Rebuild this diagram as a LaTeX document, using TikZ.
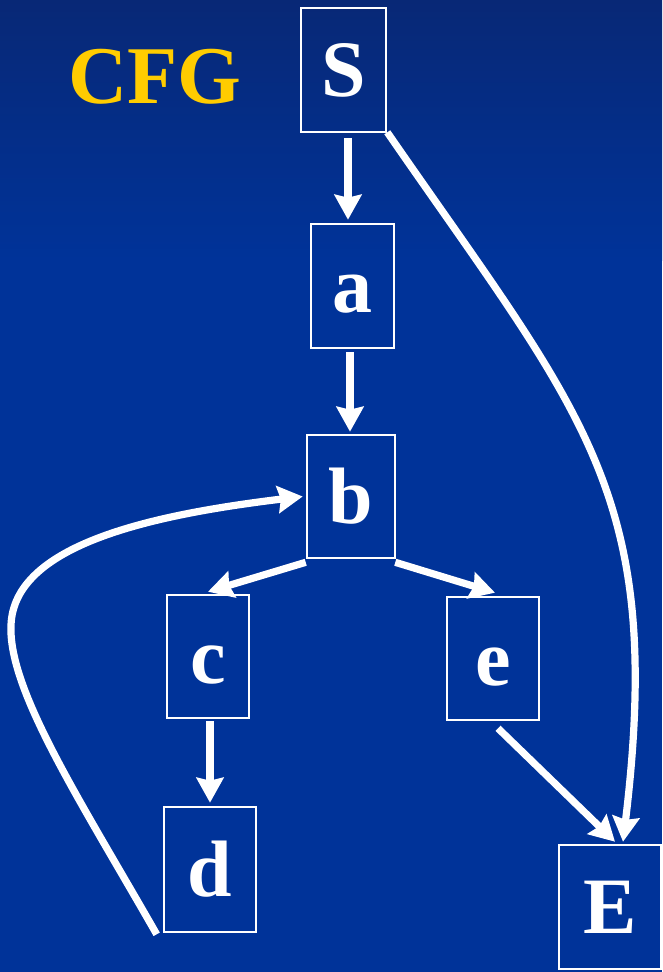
\documentclass[tikz,border=0pt]{standalone}
\usepackage{fontspec}
\setmainfont{Liberation Serif}
\usetikzlibrary{arrows.meta,calc}
\definecolor{bgtop}{RGB}{8,40,118}
\definecolor{bgmain}{RGB}{0,51,153}
\definecolor{cfggold}{RGB}{255,204,0}
\begin{document}
\begin{tikzpicture}[x=1pt,y=-1pt,
  blk/.style={draw=white, line width=2.6pt, inner sep=0pt, text=white,
    font=\fontsize{80}{80}\selectfont\bfseries, text height=53pt, text depth=0pt},
  flow/.style={draw=white, line width=7.2pt,
    -{Stealth[length=25pt,width=27pt,inset=3pt]}}]
  \useasboundingbox (0,0) rectangle (662,972);
  % background: dark band at the top fading into the slide blue
  \fill[bgmain] (0,0) rectangle (662,972);
  \shade[top color=bgtop, bottom color=bgmain] (0,0) rectangle (662,260);

  % title
  \node[anchor=base, text=cfggold, font=\fontsize{82}{82}\selectfont\bfseries,
        inner sep=0pt] (title) at (155,103) {CFG};

  % basic blocks
  \node[blk, minimum width=85pt,  minimum height=124pt] (S) at (343.5,70)  {S};
  \node[blk, minimum width=83pt,  minimum height=124pt] (a) at (352.5,286) {a};
  \node[blk, minimum width=88pt,  minimum height=123pt] (b) at (351,496.5) {b};
  \node[blk, minimum width=82pt,  minimum height=123pt] (c) at (208,656.5) {c};
  \node[blk, minimum width=92pt,  minimum height=123pt] (e) at (493,658.5) {e};
  \node[blk, minimum width=92pt,  minimum height=125pt] (d) at (210,869.5) {d};
  \node[blk, minimum width=102pt, minimum height=124pt] (E) at (610,907)   {E};

  % control-flow edges
  \draw[flow] ($(S.south)+(4.5,5)$) -- ($(a.north)+(-4.5,-3)$);
  \draw[flow] ($(a.south)+(-2.5,3)$) -- ($(b.north)+(-1,-2)$);
  \draw[flow] ($(b.south west)+(0,3)$) -- ($(c.north)+(0,-2)$);
  \draw[flow] ($(b.south east)+(-1,3)$) -- ($(e.north)+(2,-3)$);
  \draw[flow] ($(c.south)+(2,2)$) -- ($(d.north)+(0,-3)$);
  \draw[flow] ($(e.south)+(5,7)$) -- ($(E.north)+(5,-2)$);
  % S jumps straight to the exit block
  \draw[flow] ($(S.south east)+(0,-1)$)
      .. controls (584,417) and (665,493) .. ($(E.north)+(13,-2)$);
  % back edge d -> b
  \draw[flow] ($(d.south west)+(-6,1)$)
      .. controls (80,800) and (8,690) .. (11,625)
      .. controls (14,545) and (150,515) .. ($(b.west)+(-3,0)$);
\end{tikzpicture}
\end{document}
